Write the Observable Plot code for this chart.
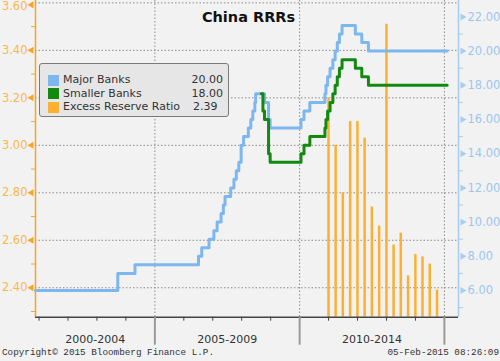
<!DOCTYPE html>
<html><head><meta charset="utf-8">
<script src="https://cdn.jsdelivr.net/npm/d3@7"></script>
<script src="https://cdn.jsdelivr.net/npm/@observablehq/plot@0.6"></script>
<style>
html,body{margin:0;padding:0;background:#f2f2f2;}
#wrap{position:relative;width:500px;height:361px;overflow:hidden;font-family:"DejaVu Sans",sans-serif;}
#chart{position:absolute;left:0;top:0;}
#legend{position:absolute;left:39px;top:63px;width:188px;height:52px;background:#e6e6e6;border:1.5px solid #7a7a7a;border-radius:3px;}
.row{position:absolute;left:0;width:188px;height:14px;font-size:11px;line-height:14px;color:#333;white-space:nowrap;}
.sw{position:absolute;left:8px;top:1.5px;width:11px;height:11px;}
.lab{position:absolute;left:23px;top:0;}
.val{position:absolute;right:5px;top:0;}
.foot{position:absolute;top:347px;font-family:"Liberation Mono",monospace;font-size:9.3px;color:#333;white-space:nowrap;}
</style></head>
<body>
<div id="wrap">
  <div id="chart"></div>
  <div id="legend"></div>
  <div class="foot" id="copy" style="left:2px;"></div>
  <div class="foot" id="stamp" style="right:1px;"></div>
</div>
<script>
// ---- data ----
const titleText = "China RRRs";
const majorDates = ["2000-11-17","2003-09-21","2004-04-25","2006-07-05","2006-08-15","2006-11-15","2007-01-15","2007-02-25","2007-04-16","2007-05-15","2007-06-05","2007-08-15","2007-09-25","2007-10-25","2007-11-26","2007-12-25","2008-01-25","2008-03-25","2008-04-25","2008-05-20","2008-06-15","2008-06-25","2008-10-15","2008-12-05","2008-12-25","2010-01-18","2010-02-25","2010-05-10","2010-11-16","2010-11-29","2010-12-20","2011-01-20","2011-02-24","2011-03-25","2011-04-21","2011-05-18","2011-06-20","2011-12-05","2012-02-24","2012-05-18","2015-02-05"];
const majorValues = [6,7,7.5,8,8.5,9,9.5,10,10.5,11,11.5,12,12.5,13,13.5,14.5,15,15.5,16,16.5,17,17.5,17,16,15.5,16,16.5,17,17.5,18,18.5,19,19.5,20,20.5,21,21.5,21,20.5,20,20];
const smallerDates = ["2008-09-05","2008-09-25","2008-10-15","2008-12-05","2008-12-25","2010-01-18","2010-02-25","2010-05-10","2010-11-16","2010-11-29","2010-12-20","2011-01-20","2011-02-24","2011-03-25","2011-04-21","2011-05-18","2011-06-20","2011-12-05","2012-02-24","2012-05-18","2015-02-05"];
const smallerValues = [17.5,16.5,16,14,13.5,14,14.5,15,15.5,16,16.5,17,17.5,18,18.5,19,19.5,19,18.5,18,18];
const excessDates = ["2010-12-31","2011-03-31","2011-06-30","2011-09-30","2011-12-31","2012-03-31","2012-06-30","2012-09-30","2012-12-31","2013-03-31","2013-06-30","2013-09-30","2013-12-31","2014-03-31","2014-06-30","2014-09-30"];
const excessValues = [3.20,3.00,2.80,3.10,3.10,3.03,2.74,2.66,3.51,2.58,2.63,2.45,2.54,2.53,2.50,2.39];
const leftTicks = [2.4,2.6,2.8,3.0,3.2,3.4,3.6];
const leftMinor = [2.3,2.5,2.7,2.9,3.1,3.3,3.5];
const rightTicks = [6,8,10,12,14,16,18,20,22];
const rightMinor = [5,7,9,11,13,15,17,19,21];
const periodLabels = ["2000-2004","2005-2009","2010-2014"];
const periodBreaks = ["2005-01-01","2010-01-01","2015-01-01"];
const legendNames = ["Major Banks","Smaller Banks","Excess Reserve Ratio"];
const legendValues = ["20.00","18.00","2.39"];
const copyrightText = "Copyright\u00a9 2015 Bloomberg Finance L.P.";
const stampText = "05-Feb-2015 08:26:09";

// ---- scales setup ----
const xDomain = [new Date("2000-11-17"), new Date("2015-06-28")];
const leftDomain = [2.276, 3.61];
const rightDomain = [4.44, 22.96];
const toRight = d3.scaleLinear(leftDomain, rightDomain);

const blue = "#7db7ee", green = "#128a12", orange = "#fbb034";
const orangeAxis = "#f6a622", orangeText = "#f7b84c";
const blueAxis = "#a6cdf2", blueText = "#9cc6ef";
const FONT = "DejaVu Sans";

const major = majorDates.map((d,i)=>({date:new Date(d), v:majorValues[i]}));
const smaller = smallerDates.map((d,i)=>({date:new Date(d), v:smallerValues[i]}));
const excess = excessDates.map((d,i)=>({date:new Date(d), v:excessValues[i]}));
const breaks = periodBreaks.map(d=>new Date(d));
const starts = [xDomain[0], ...breaks.slice(0,2)];
const periods = periodLabels.map((l,i)=>({label:l, mid:new Date((+starts[i] + +breaks[i])/2)}));
const years = d3.utcYear.range(new Date("2001-01-01"), new Date("2015-06-01"));
const dash = "1.5,2";
const topTick = leftTicks[leftTicks.length-1];
const innerLeftTicks = leftTicks.slice(0, -1);

const chart = Plot.plot({
  width: 500, height: 361,
  marginLeft: 35, marginRight: 42, marginTop: 0, marginBottom: 44.3,
  x: {type: "time", domain: xDomain, axis: null},
  y: {domain: rightDomain, axis: null},
  style: {background: "transparent", fontFamily: FONT},
  marks: [
    Plot.ruleY(leftTicks, {y: d=>toRight(d), stroke: "#8a8a8a", strokeDasharray: dash, strokeWidth: 1}),
    Plot.ruleX(breaks, {stroke: "#8a8a8a", strokeDasharray: dash, strokeWidth: 1}),
    Plot.ruleX(excess, {x: "date", y1: ()=>rightDomain[0], y2: d=>toRight(d.v), stroke: orange, strokeWidth: 2.5}),
    Plot.line(major, {x: "date", y: "v", curve: "step-after", stroke: blue, strokeWidth: 3}),
    Plot.line(smaller, {x: "date", y: "v", curve: "step-after", stroke: green, strokeWidth: 3}),
    // left axis
    Plot.ruleX([xDomain[0]], {stroke: orangeAxis, strokeWidth: 1.5}),
    Plot.axisY(leftMinor.map(d=>toRight(d)), {anchor: "left", label: null, tickSize: 4, tickFormat: ()=>"", stroke: orangeAxis}),
    Plot.text(innerLeftTicks, {x: ()=>xDomain[0], y: d=>toRight(d), text: d=>d3.format(".2f")(d), textAnchor: "end", dx: -8, fill: orangeText, fontSize: 11.5, fontFamily: FONT}),
    Plot.text([topTick], {x: ()=>xDomain[0], y: d=>toRight(d), text: d=>d3.format(".2f")(d), textAnchor: "end", dx: -8, dy: 3.5, fill: orangeText, fontSize: 11.5, fontFamily: FONT}),
    Plot.dot(innerLeftTicks, {x: ()=>xDomain[0], y: d=>toRight(d), symbol: "triangle", rotate: -90, r: 2.6, dx: -4, fill: orangeAxis, stroke: "none"}),
    Plot.dot([topTick], {x: ()=>xDomain[0], y: d=>toRight(d), symbol: "triangle", rotate: -90, r: 2.6, dx: -4, dy: 2, fill: orangeAxis, stroke: "none"}),
    // right axis
    Plot.ruleX([xDomain[1]], {stroke: blueAxis, strokeWidth: 1.5}),
    Plot.axisY(rightMinor, {anchor: "right", label: null, tickSize: 4, tickFormat: ()=>"", stroke: blueAxis}),
    Plot.text(rightTicks, {x: ()=>xDomain[1], y: d=>d, text: d=>d3.format(".2f")(d), textAnchor: "start", dx: 9, fill: blueText, fontSize: 11.5, fontFamily: FONT}),
    Plot.dot(rightTicks, {x: ()=>xDomain[1], y: d=>d, symbol: "triangle", rotate: 90, r: 2.6, dx: 4, fill: blueAxis, stroke: "none"}),
    // bottom axis
    Plot.ruleY([rightDomain[0]], {stroke: "#444", strokeWidth: 1.5}),
    Plot.axisX(years, {anchor: "bottom", label: null, tickSize: 4, tickFormat: ()=>"", stroke: "#444"}),
    Plot.axisX(breaks, {anchor: "bottom", label: null, tickSize: 28, tickFormat: ()=>"", stroke: "#9a9a9a", strokeWidth: 2}),
    Plot.text(periods, {x: "mid", y: ()=>rightDomain[0], dy: 22.5, text: "label", fontSize: 11, fill: "#333", fontFamily: FONT}),
    // title
    Plot.text([titleText], {frameAnchor: "top", dx: 1.5, dy: 11, fontSize: 14.5, fontWeight: "bold", fill: "#111", fontFamily: FONT})
  ]
});
document.getElementById("chart").appendChild(chart);

// legend
const lg = document.getElementById("legend");
const lgColors = [blue, green, orange];
legendNames.forEach((n,i)=>{
  const r = document.createElement("div");
  r.className = "row";
  r.style.top = (9 + i*13.7) + "px";
  const sw = document.createElement("div"); sw.className="sw"; sw.style.background = lgColors[i];
  const lab = document.createElement("div"); lab.className="lab"; lab.textContent = n;
  const val = document.createElement("div"); val.className="val"; val.textContent = legendValues[i];
  if (i === 2) { val.style.right = "auto"; val.style.left = "153px"; }
  r.appendChild(sw); r.appendChild(lab); r.appendChild(val);
  lg.appendChild(r);
});
document.getElementById("copy").textContent = copyrightText;
document.getElementById("stamp").textContent = stampText;
</script>
</body></html>
